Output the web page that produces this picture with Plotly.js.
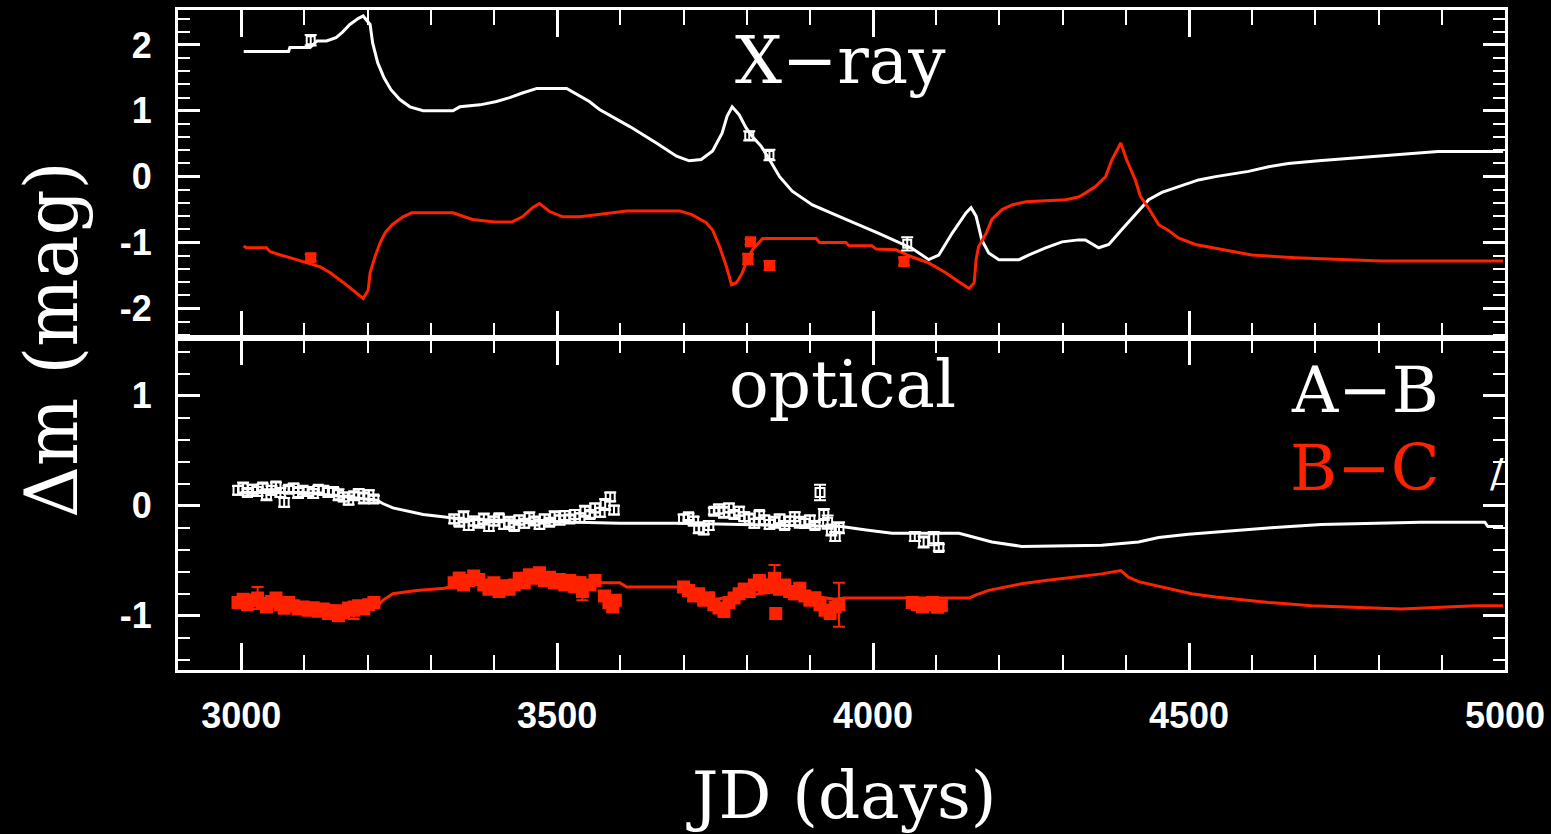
<!DOCTYPE html>
<html>
<head>
<meta charset="utf-8">
<script src="https://cdn.plot.ly/plotly-3.0.1.min.js"></script>
<style>html,body{margin:0;padding:0;background:#000;}#chart{width:1551px;height:834px;}</style>
</head>
<body>
<div id="chart"></div>
<script>
// ---------- X-ray panel: model curves ----------
const xrayAB_day = [3004,3075,3077,3109,3120,3135,3150,3160,3172,3185,3193,3204,3208,3216,3226,3237,3251,3267,3288,3335,3346,3378,3404,3425,3445,3468,3515,3531,3551,3567,3615,3657,3689,3709,3728,3746,3761,3769,3777,3788,3799,3809,3823,3836,3852,3872,3904,3957,4009,4062,4088,4104,4125,4147,4155,4163,4172,4183,4199,4231,4246,4273,4299,4325,4336,4357,4373,4393,4415,4436,4457,4483,4515,4542,4594,4626,4657,4705,4757,4820,4894,4997];
const xrayAB_mag = [1.90,1.90,1.96,1.96,2.06,2.06,2.11,2.19,2.31,2.40,2.44,2.31,2.03,1.73,1.50,1.32,1.17,1.06,1.00,1.00,1.06,1.09,1.14,1.20,1.27,1.34,1.34,1.25,1.14,1.02,0.76,0.51,0.31,0.24,0.26,0.39,0.66,0.92,1.06,0.94,0.74,0.61,0.46,0.26,0.00,-0.22,-0.43,-0.65,-0.86,-1.09,-1.26,-1.19,-0.86,-0.55,-0.47,-0.60,-0.96,-1.16,-1.26,-1.26,-1.19,-1.08,-0.99,-0.96,-0.96,-1.08,-1.03,-0.81,-0.58,-0.35,-0.24,-0.15,-0.05,0.00,0.08,0.15,0.20,0.24,0.28,0.33,0.38,0.38];

const xrayBC_day = [3004,3008,3040,3046,3062,3077,3125,3141,3162,3182,3193,3201,3204,3212,3220,3228,3239,3256,3270,3335,3366,3401,3428,3445,3461,3472,3488,3509,3536,3562,3610,3694,3714,3736,3746,3757,3768,3776,3784,3793,3799,3809,3825,3910,3915,3957,3962,3998,4005,4036,4062,4088,4115,4136,4152,4160,4163,4167,4179,4188,4204,4220,4242,4305,4325,4336,4352,4368,4378,4392,4401,4415,4423,4436,4452,4468,4483,4510,4536,4567,4599,4668,4804,4997];
const xrayBC_mag = [-1.05,-1.08,-1.08,-1.14,-1.19,-1.23,-1.37,-1.46,-1.61,-1.77,-1.85,-1.72,-1.46,-1.21,-1.00,-0.85,-0.73,-0.61,-0.55,-0.55,-0.65,-0.69,-0.69,-0.61,-0.47,-0.41,-0.53,-0.61,-0.61,-0.58,-0.52,-0.52,-0.58,-0.70,-0.81,-1.06,-1.37,-1.64,-1.61,-1.46,-1.31,-1.11,-0.94,-0.94,-1.00,-1.00,-1.05,-1.05,-1.10,-1.11,-1.22,-1.31,-1.46,-1.60,-1.70,-1.61,-1.26,-1.06,-0.86,-0.65,-0.50,-0.43,-0.38,-0.35,-0.31,-0.25,-0.15,0.00,0.26,0.51,0.26,-0.05,-0.30,-0.48,-0.73,-0.82,-0.93,-1.03,-1.08,-1.14,-1.19,-1.23,-1.28,-1.28];

// ---------- X-ray panel: measurements ----------
const xrayAB_obs_day = [3110,3804,3836,4054];
const xrayAB_obs_mag = [2.07,0.62,0.33,-1.02];
const xrayAB_obs_err = [0.08,0.07,0.08,0.10];
const xrayBC_obs_day = [3110,3802,3806,3836,4049];
const xrayBC_obs_mag = [-1.23,-1.25,-0.99,-1.35,-1.29];
const xrayBC_obs_err = [0.05,0.08,0.04,0.07,0.06];

// ---------- optical panel: model curves ----------
const optAB_day = [3000,3100,3215,3224,3240,3262,3288,3319,3346,3450,3599,3698,3800,3950,3989,4030,4136,4188,4235,4362,4420,4452,4499,4558,4630,4709,4867,4968,4973,4997];
const optAB_mag = [0.12,0.12,0.05,0.02,-0.02,-0.05,-0.08,-0.10,-0.12,-0.14,-0.16,-0.16,-0.17,-0.19,-0.22,-0.25,-0.25,-0.33,-0.37,-0.36,-0.33,-0.29,-0.26,-0.23,-0.20,-0.17,-0.15,-0.15,-0.19,-0.19];
const optBC_day = [3000,3215,3224,3240,3278,3322,3340,3450,3551,3599,3610,3694,3750,3850,3940,3954,4152,4163,4183,4210,4235,4273,4313,4362,4392,4404,4420,4452,4472,4504,4542,4573,4626,4694,4836,4953,4997];
const optBC_mag = [-0.88,-0.92,-0.86,-0.80,-0.77,-0.75,-0.72,-0.68,-0.70,-0.70,-0.74,-0.74,-0.85,-0.78,-0.85,-0.84,-0.84,-0.81,-0.77,-0.74,-0.71,-0.68,-0.65,-0.62,-0.59,-0.65,-0.69,-0.73,-0.76,-0.80,-0.83,-0.85,-0.88,-0.91,-0.94,-0.91,-0.91];

// ---------- optical panel: measurements ----------
const optAB_obs_day = [2995,3003,3010,3018,3026,3034,3040,3048,3055,3062,3068,3075,3083,3090,3098,3106,3114,3122,3130,3138,3146,3154,3162,3170,3178,3186,3194,3202,3210,
  3337,3345,3352,3360,3368,3376,3384,3392,3400,3408,3416,3424,3432,3440,3448,3456,3464,3472,3480,3488,3496,3504,3512,3520,3528,3536,3544,3552,3560,3568,3576,3584,3590,
  3700,3708,3716,3724,3732,3740,3748,3756,3764,3772,3780,3788,3796,3804,3812,3820,3828,3836,3844,3852,3860,3868,3876,3884,3892,3900,3908,3916,3922,3928,3934,3940,3946,
  4066,4080,4096,4104];
const optAB_obs_mag = [0.14,0.16,0.12,0.15,0.13,0.17,0.10,0.14,0.18,0.12,0.03,0.15,0.16,0.12,0.14,0.13,0.11,0.15,0.14,0.12,0.13,0.10,0.08,0.05,0.09,0.11,0.07,0.10,0.06,
  -0.12,-0.15,-0.10,-0.18,-0.14,-0.16,-0.12,-0.19,-0.14,-0.11,-0.17,-0.15,-0.19,-0.13,-0.16,-0.11,-0.14,-0.17,-0.12,-0.15,-0.10,-0.13,-0.09,-0.12,-0.08,-0.11,-0.05,-0.08,-0.02,-0.06,0.01,0.08,-0.04,
  -0.12,-0.10,-0.14,-0.20,-0.22,-0.18,-0.05,-0.03,-0.06,-0.02,-0.08,-0.05,-0.10,-0.12,-0.16,-0.08,-0.13,-0.17,-0.15,-0.12,-0.18,-0.14,-0.10,-0.15,-0.16,-0.13,-0.18,0.12,-0.08,-0.15,-0.22,-0.28,-0.20,
  -0.28,-0.33,-0.30,-0.38];
const optAB_obs_err = [0.04,0.05,0.03,0.04,0.04,0.03,0.05,0.04,0.03,0.04,0.04,0.03,0.04,0.05,0.03,0.04,0.04,0.03,0.04,0.04,0.03,0.05,0.04,0.04,0.03,0.04,0.05,0.04,0.03,
  0.04,0.03,0.05,0.04,0.04,0.03,0.05,0.04,0.04,0.03,0.04,0.05,0.03,0.04,0.04,0.05,0.03,0.04,0.04,0.03,0.05,0.04,0.04,0.03,0.04,0.04,0.05,0.03,0.04,0.04,0.05,0.04,0.04,
  0.04,0.03,0.04,0.05,0.04,0.04,0.03,0.04,0.05,0.04,0.03,0.04,0.04,0.05,0.04,0.03,0.04,0.04,0.05,0.04,0.03,0.04,0.04,0.05,0.04,0.04,0.03,0.07,0.05,0.06,0.05,0.04,0.05,
  0.04,0.05,0.06,0.03];

const optBC_obs_day = [2995,3003,3010,3018,3026,3034,3040,3048,3055,3062,3068,3075,3083,3090,3098,3106,3114,3122,3130,3138,3146,3154,3162,3170,3178,3186,3194,3202,3210,
  3337,3345,3352,3360,3368,3376,3384,3392,3400,3408,3416,3424,3432,3440,3448,3456,3464,3472,3480,3488,3496,3504,3512,3520,3528,3536,3540,3552,3560,3575,3582,3588,3592,
  3700,3708,3716,3724,3732,3740,3748,3756,3764,3772,3780,3788,3796,3804,3812,3820,3828,3836,3844,3846,3852,3860,3868,3876,3884,3892,3900,3908,3916,3924,3932,3940,3946,
  4062,4070,4078,4086,4094,4102,4108];
const optBC_obs_mag = [-0.88,-0.85,-0.90,-0.86,-0.84,-0.89,-0.92,-0.87,-0.84,-0.90,-0.93,-0.88,-0.91,-0.94,-0.92,-0.95,-0.93,-0.96,-0.94,-0.98,-0.96,-1.00,-0.97,-0.93,-0.95,-0.91,-0.94,-0.90,-0.88,
  -0.70,-0.66,-0.72,-0.68,-0.64,-0.67,-0.72,-0.76,-0.70,-0.78,-0.73,-0.76,-0.72,-0.66,-0.70,-0.63,-0.66,-0.61,-0.68,-0.65,-0.70,-0.67,-0.72,-0.68,-0.74,-0.70,-0.78,-0.72,-0.68,-0.82,-0.88,-0.92,-0.86,
  -0.74,-0.77,-0.82,-0.80,-0.86,-0.84,-0.90,-0.93,-0.96,-0.88,-0.84,-0.80,-0.76,-0.78,-0.72,-0.68,-0.74,-0.72,-0.66,-0.98,-0.76,-0.72,-0.78,-0.80,-0.75,-0.82,-0.86,-0.84,-0.90,-0.95,-0.98,-0.92,-0.90,
  -0.88,-0.90,-0.92,-0.90,-0.88,-0.92,-0.91];
const optBC_obs_err = [0.04,0.03,0.04,0.05,0.10,0.04,0.03,0.04,0.04,0.03,0.05,0.04,0.04,0.03,0.04,0.04,0.05,0.03,0.04,0.04,0.03,0.04,0.05,0.04,0.08,0.04,0.03,0.04,0.04,
  0.04,0.05,0.03,0.04,0.04,0.05,0.04,0.03,0.04,0.04,0.05,0.03,0.04,0.04,0.03,0.05,0.04,0.04,0.03,0.04,0.05,0.04,0.03,0.04,0.04,0.05,0.08,0.04,0.03,0.04,0.05,0.04,0.04,
  0.04,0.05,0.04,0.03,0.04,0.05,0.04,0.04,0.05,0.04,0.03,0.04,0.05,0.04,0.04,0.03,0.04,0.05,0.12,0.05,0.04,0.03,0.04,0.05,0.04,0.04,0.03,0.05,0.04,0.04,0.05,0.04,0.20,
  0.04,0.03,0.04,0.05,0.04,0.05,0.04];

// ---------- tick labels and texts ----------
const xTickVals = [3000, 3500, 4000, 4500, 5000];
const xTickText = ['3000', '3500', '4000', '4500', '5000'];
const yTopTickVals = [-2, -1, 0, 1, 2];
const yTopTickText = ['-2', '-1', '0', '1', '2'];
const yBotTickVals = [-1, 0, 1];
const yBotTickText = ['-1', '0', '1'];
const yTitle = 'Δm (mag)';
const xTitle = 'JD (days)';
const panelTop = 'X−ray';
const panelBottom = 'optical';
const legendAB = 'A−B';
const legendBC = 'B−C';

const WHITE = '#ffffff';
const RED = '#ff2200';

function line(x, y, color, xa, ya) {
  return {x, y, xaxis: xa, yaxis: ya, type: 'scatter', mode: 'lines',
    line: {color, width: 3}, hoverinfo: 'skip', showlegend: false};
}
function pts(x, y, err, color, xa, ya, sym, size) {
  return {x, y, xaxis: xa, yaxis: ya, type: 'scatter', mode: 'markers',
    marker: {symbol: sym, size, color, line: {color, width: 2}},
    error_y: {type: 'data', array: err, visible: true, color, thickness: 2, width: 6},
    hoverinfo: 'skip', showlegend: false};
}

const data = [
  line(xrayAB_day, xrayAB_mag, WHITE, 'x', 'y'),
  line(xrayBC_day, xrayBC_mag, RED, 'x', 'y'),
  pts(xrayAB_obs_day, xrayAB_obs_mag, xrayAB_obs_err, WHITE, 'x', 'y', 'square-open', 8),
  pts(xrayBC_obs_day, xrayBC_obs_mag, xrayBC_obs_err, RED, 'x', 'y', 'square', 9),
  line(optAB_day, optAB_mag, WHITE, 'x2', 'y2'),
  line(optBC_day, optBC_mag, RED, 'x2', 'y2'),
  pts(optAB_obs_day, optAB_obs_mag, optAB_obs_err, WHITE, 'x2', 'y2', 'square-open', 9),
  pts(optBC_obs_day, optBC_obs_mag, optBC_obs_err, RED, 'x2', 'y2', 'square', 11)
];

const tickFont = {family: 'Liberation Sans, Arial, sans-serif', size: 36, color: WHITE, weight: 700};
const serif = 'DejaVu Serif, serif';

function xax(anchor, labels) {
  return {anchor, range: [2900, 5000], tickmode: 'array', tickvals: xTickVals, ticktext: xTickText,
    ticks: 'inside', ticklen: 27, tickwidth: 3,
    tickcolor: WHITE, showline: true, linecolor: WHITE, linewidth: 3, mirror: 'allticks',
    showgrid: false, zeroline: false, showticklabels: labels, tickfont: tickFont, ticklabelstandoff: 12,
    minor: {dtick: 100, tick0: 3000, ticks: 'inside', ticklen: 15, tickwidth: 2, tickcolor: WHITE, showgrid: false}};
}
function yax(anchor, domain, range, vals, text) {
  return {anchor, domain, range, tickmode: 'array', tickvals: vals, ticktext: text,
    ticks: 'inside', ticklen: 22, tickwidth: 3,
    tickcolor: WHITE, showline: true, linecolor: WHITE, linewidth: 3, mirror: 'allticks',
    showgrid: false, zeroline: false, tickfont: tickFont, ticklabelstandoff: 16,
    minor: {dtick: 0.2, tick0: 0, ticks: 'inside', ticklen: 12, tickwidth: 2, tickcolor: WHITE, showgrid: false}};
}

const layout = {
  width: 1551, height: 834,
  paper_bgcolor: '#000000', plot_bgcolor: '#000000',
  margin: {l: 178, r: 46, t: 10, b: 164},
  showlegend: false,
  xaxis: Object.assign(xax('y', false), {matches: 'x2'}),
  xaxis2: xax('y2', true),
  yaxis: yax('x', [0.503, 1], [-2.45, 2.53], yTopTickVals, yTopTickText),
  yaxis2: yax('x2', [0, 0.503], [-1.494, 1.525], yBotTickVals, yBotTickText),
  annotations: [
    {text: panelTop, xref: 'x', yref: 'y', x: 3948, y: 1.77, showarrow: false,
      font: {family: serif, size: 66, color: WHITE}},
    {text: panelBottom, xref: 'x2', yref: 'y2', x: 3952, y: 1.10, showarrow: false,
      font: {family: serif, size: 66, color: WHITE}},
    {text: legendAB, xref: 'x2', yref: 'y2', x: 4778, y: 1.05, showarrow: false,
      font: {family: serif, size: 64, color: WHITE}},
    {text: legendBC, xref: 'x2', yref: 'y2', x: 4778, y: 0.34, showarrow: false,
      font: {family: serif, size: 64, color: RED}},
    {text: '/', xref: 'x2', yref: 'y2', x: 4988, y: 0.30, showarrow: false,
      font: {family: serif, size: 40, color: WHITE}},
    {text: yTitle, xref: 'paper', yref: 'paper', x: 0, y: 0.5, xshift: -126, showarrow: false,
      textangle: -90, xanchor: 'center', yanchor: 'middle',
      font: {family: serif, size: 72, color: WHITE}},
    {text: xTitle, xref: 'paper', yref: 'paper', x: 0.5, y: 0, yshift: -125, showarrow: false,
      xanchor: 'center', yanchor: 'middle',
      font: {family: serif, size: 66, color: WHITE}}
  ]
};

Plotly.newPlot('chart', data, layout, {staticPlot: true, displayModeBar: false});
</script>
</body>
</html>
